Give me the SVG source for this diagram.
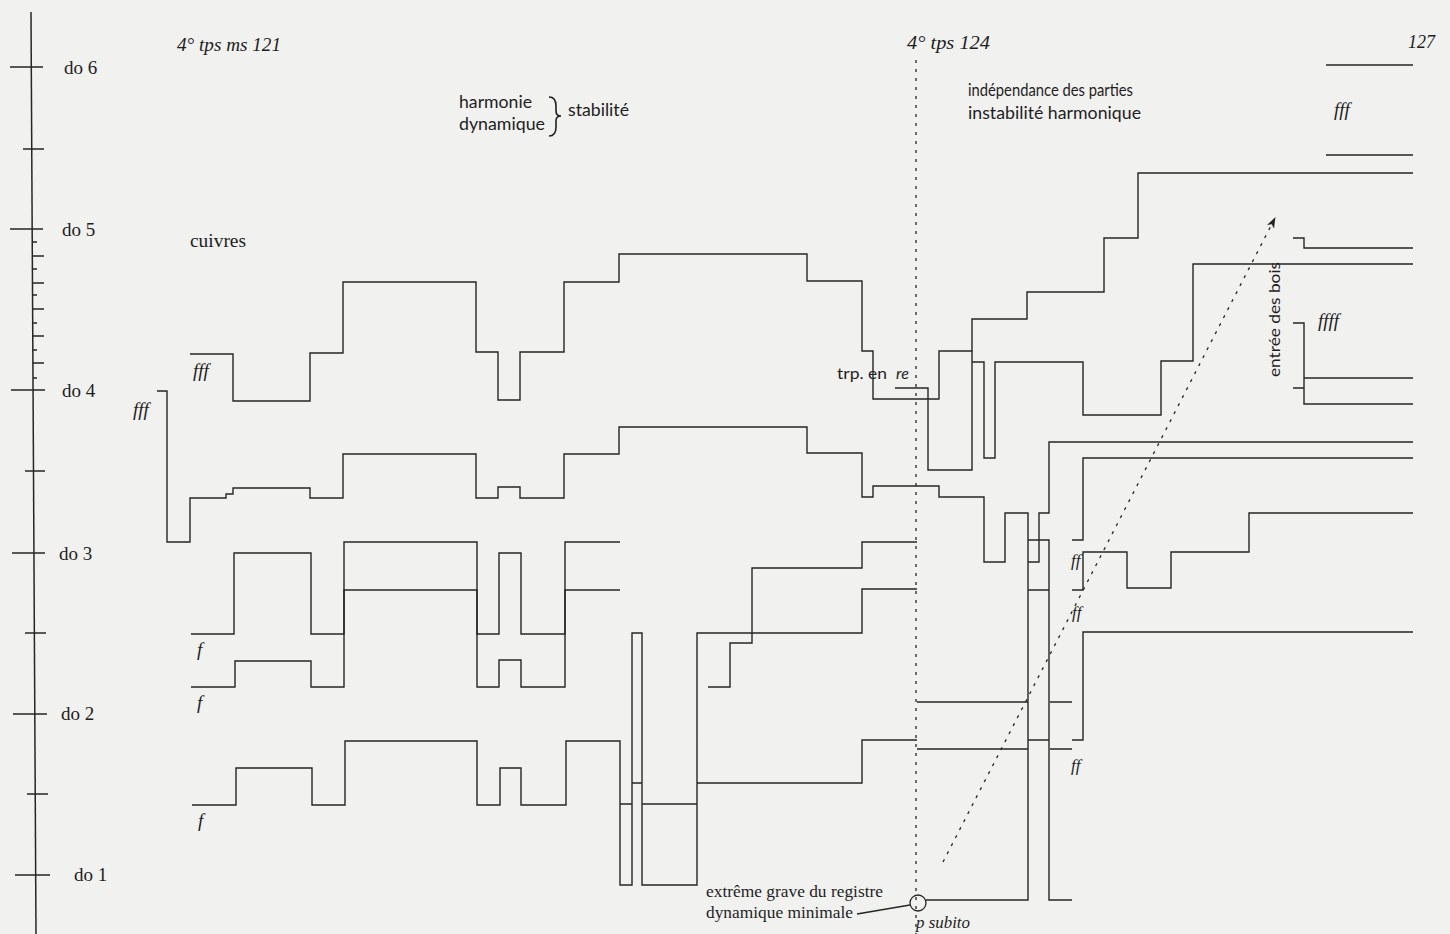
<svg xmlns="http://www.w3.org/2000/svg" width="1450" height="934" viewBox="0 0 1450 934">
<defs>
<style>
.ln{fill:none;stroke:#262626;stroke-width:1.4;stroke-linejoin:miter}
.ax{fill:none;stroke:#262626;stroke-width:1.5}
.tm{font-family:"Liberation Serif","Times New Roman",serif;fill:#1e1e1e}
.it{font-family:"Liberation Serif","Times New Roman",serif;font-style:italic;fill:#1e1e1e}
.op{font-family:Lato,"Open Sans","Liberation Sans",sans-serif;fill:#1e1e1e}
.dash{fill:none;stroke:#262626;stroke-width:1.3;stroke-dasharray:3 6}
</style>
<marker id="ah" markerWidth="12" markerHeight="10" refX="10" refY="4" orient="auto" markerUnits="userSpaceOnUse">
<path d="M0,0 L11,4 L0,8 L3,4 Z" fill="#262626"/>
</marker>
</defs>
<rect x="0" y="0" width="1450" height="934" fill="#f1f1ef"/>

<g id="axis">
<path class="ax" d="M31,12 L36,934"/>
<path class="ax" d="M10,67 H43 M23,149 H44 M10,229 H43 M11,390 H45 M25,471 H45 M12,553 H45 M25,633 H46 M13,714 H47 M27,794 H48 M15,875 H50"/>
<path class="ax" d="M32,242 H37 M32,256 H44 M32,269 H37 M32,283 H44 M32,295 H37 M32,309 H44 M32,323 H37 M32,336 H44 M33,350 H37 M33,363 H44 M33,378 H37"/>
<text class="tm" x="64" y="74" font-size="19">do 6</text>
<text class="tm" x="62" y="236" font-size="19">do 5</text>
<text class="tm" x="62" y="397" font-size="19">do 4</text>
<text class="tm" x="59" y="560" font-size="19">do 3</text>
<text class="tm" x="61" y="720" font-size="19">do 2</text>
<text class="tm" x="74" y="881" font-size="19">do 1</text>
</g>

<g id="labels">
<text class="it" x="177" y="51" font-size="19" textLength="104" lengthAdjust="spacingAndGlyphs">4° tps ms 121</text>
<text class="tm" x="190" y="247" font-size="19" textLength="56" lengthAdjust="spacingAndGlyphs">cuivres</text>
<text class="op" x="459" y="108" font-size="18" textLength="73" lengthAdjust="spacingAndGlyphs">harmonie</text>
<text class="op" x="459" y="130" font-size="18" textLength="86" lengthAdjust="spacingAndGlyphs">dynamique</text>
<path d="M549,97 Q556,97 556,106 V111 Q556,116 561,116 Q556,116 556,121 V127 Q556,136 549,136" fill="none" stroke="#1e1e1e" stroke-width="1.6"/>
<text class="op" x="568" y="116" font-size="18" textLength="61" lengthAdjust="spacingAndGlyphs">stabilité</text>
<text class="it" x="907" y="49" font-size="19" textLength="83" lengthAdjust="spacingAndGlyphs">4° tps  124</text>
<text class="it" x="1408" y="48" font-size="18" textLength="27" lengthAdjust="spacingAndGlyphs">127</text>
<text class="op" x="968" y="96" font-size="18" textLength="165" lengthAdjust="spacingAndGlyphs">indépendance des parties</text>
<text class="op" x="968" y="119" font-size="18" textLength="173" lengthAdjust="spacingAndGlyphs">instabilité harmonique</text>
<text class="it" x="1334" y="116" font-size="19">fff</text>
<text class="it" x="1318" y="327" font-size="19">ffff</text>
<text class="op" transform="translate(1280,377) rotate(-90)" font-size="15" textLength="115" lengthAdjust="spacingAndGlyphs">entrée des bois</text>
<text class="it" x="193" y="377" font-size="19">fff</text>
<text class="it" x="133" y="416" font-size="19">fff</text>
<text class="it" x="197" y="656" font-size="19">f</text>
<text class="it" x="197" y="709" font-size="19">f</text>
<text class="it" x="198" y="827" font-size="19">f</text>
<text class="op" x="837" y="379" font-size="16" textLength="50" lengthAdjust="spacingAndGlyphs">trp. en</text>
<text class="op" x="896" y="379" font-size="16" font-style="italic">re</text>
<text class="it" x="1071" y="566" font-size="17">ff</text>
<text class="it" x="1072" y="618" font-size="17">ff</text>
<text class="it" x="1071" y="771" font-size="17">ff</text>
<text class="tm" x="706" y="897" font-size="16.5" textLength="177" lengthAdjust="spacingAndGlyphs">extrême grave du registre</text>
<text class="tm" x="706" y="918" font-size="16.5" textLength="147" lengthAdjust="spacingAndGlyphs">dynamique minimale</text>
<text class="it" x="916" y="928" font-size="16" textLength="54" lengthAdjust="spacingAndGlyphs">p subito</text>
</g>

<g id="connectors">
<path class="dash" d="M916,60 V934"/>
<path class="dash" d="M943,862 L1275,218" marker-end="url(#ah)"/>
<circle cx="918" cy="903" r="8" fill="none" stroke="#262626" stroke-width="1.3"/>
<path class="ln" d="M857,914 L910,905"/>
<path class="ln" d="M190,354 H233 V401 H310 V353 H343 V282 H476 V352 H498 V400 H520 V352 H564 V282 H619 V254 H807 V281 H862 V351 H873 V399 H939 V351 H972 V319 H1027 V292 H1104 V238 H1138 V173 H1413"/>
<path class="ln" d="M157,391 H167 V542 H190 V498 H226 V494 H233 V488 H310 V498 H343 V454 H476 V498 H498 V487 H520 V498 H564 V454 H619 V427 H807 V453 H862 V497 H873 V486 H939 V497 H984 V562 H1005 V513 H1028 V900 H926"/>
<path class="ln" d="M895,388 H928 V470 H972 V351 M972,362 H984 V458 H995 V362 H1083 V415 H1161 V361 H1193 V264 H1413"/>
<path class="ln" d="M1028,562 H1039 V513 H1049 V442 H1413"/>
<path class="ln" d="M1028,540 H1049 V900 H1072"/>
<path class="ln" d="M1028,590 H1049 M1050,702 H1072 M1028,740 H1049 M1050,749 H1072 M917,702 H1028 M917,749 H1028"/>
<path class="ln" d="M1072,540 H1083 V458 H1413"/>
<path class="ln" d="M1072,590 H1083 V552 H1127 V588 H1171 V552 H1249 V513 H1413"/>
<path class="ln" d="M1072,740 H1083 V632 H1413"/>
<path class="ln" d="M191,634 H234 V553 H311 V634 H344 V542 H477 V634 H499 V553 H521 V634 H565 V542 H620"/>
<path class="ln" d="M191,687 H235 V661 H311 V687 H344 V590 H477 V687 H499 V660 H521 V687 H565 V590 H620"/>
<path class="ln" d="M192,805 H236 V768 H312 V805 H345 V741 H477 V805 H500 V768 H521 V805 H566 V741 H620 V885 H632 V633 H642 V885 H697 V633 H862 V589 H917"/>
<path class="ln" d="M620,804 H632 M632,783 H642 M642,804 H697"/>
<path class="ln" d="M697,783 H862 V740 H917"/>
<path class="ln" d="M708,687 H730 V643 H752 V568 H862 V542 H917"/>
<path class="ln" d="M1326,65 H1413 M1326,155 H1413 M1293,238 H1304 V248 H1413 M1293,323 H1304 V404 H1413 M1293,388 H1304 M1304,378 H1413"/>
</g>
</svg>
